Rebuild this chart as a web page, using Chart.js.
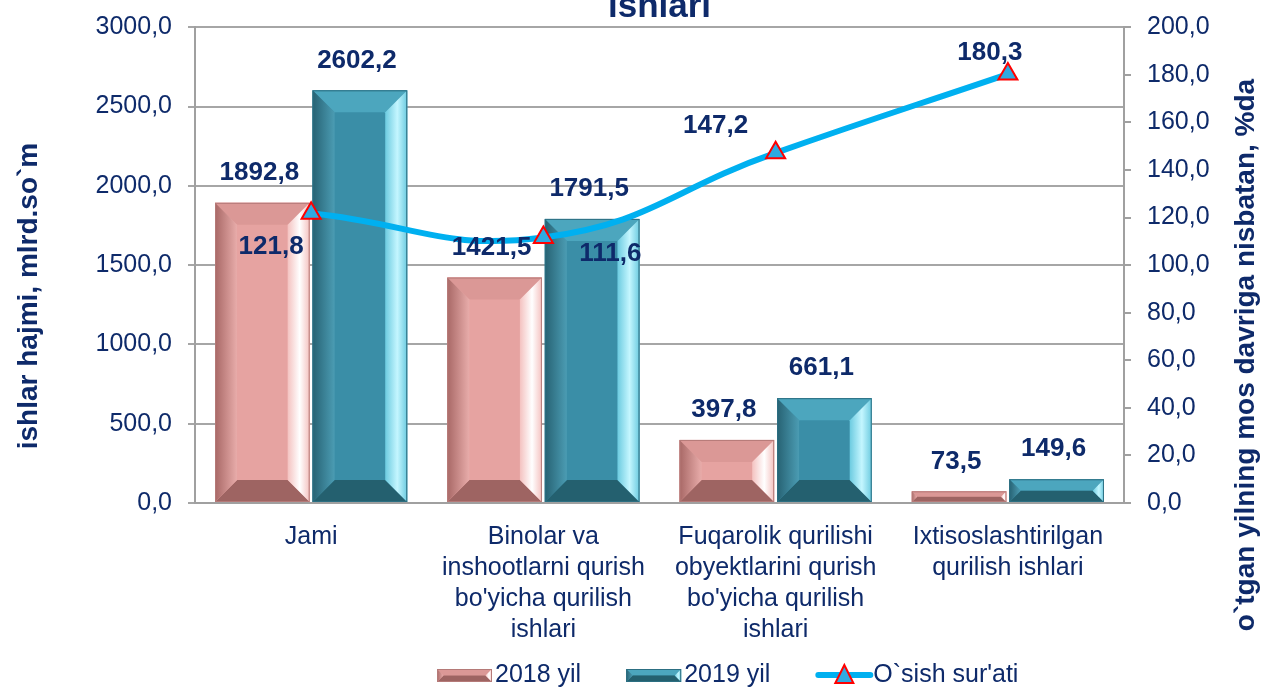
<!DOCTYPE html>
<html>
<head>
<meta charset="utf-8">
<script src="https://cdn.jsdelivr.net/npm/chart.js@4/dist/chart.umd.min.js"></script>
<style>
  html, body { margin: 0; padding: 0; background: #fff; }
  #wrap { width: 1262px; height: 689px; position: relative; }
</style>
</head>
<body>
<div id="wrap"><canvas id="chart"></canvas></div>
<script>
const categories = [
  "Jami",
  ["Binolar va", "inshootlarni qurish", "bo'yicha qurilish", "ishlari"],
  ["Fuqarolik qurilishi", "obyektlarini qurish", "bo'yicha qurilish", "ishlari"],
  ["Ixtisoslashtirilgan", "qurilish ishlari"]
];
const values2018 = [1892.8, 1421.5, 397.8, 73.5];
const values2019 = [2602.2, 1791.5, 661.1, 149.6];
const growthRate = [121.8, 111.6, 147.2, 180.3];
const leftTicks = [0, 500, 1000, 1500, 2000, 2500, 3000];
const rightTicks = [0, 20, 40, 60, 80, 100, 120, 140, 160, 180, 200];

const NAVY = "#0E2A6A";
const FONT = "'Liberation Sans', Arial, sans-serif";
const fmt = v => v.toFixed(1).replace(".", ",");

const pink = { face: "#E6A3A1", top: "#DB9896", left: ["#A86866", "#E8ACAA"], right: ["#F4C2C0", "#FFFFFF"], bottom: "#9E6462", edge: "#B57A78" };
const teal = { face: "#3A8EA7", top: "#4CA6BE", left: ["#276273", "#4B9CB3"], right: ["#6CCBE0", "#C4F6FF"], bottom: "#24606F", edge: "#2C6F82" };

function bevelBox(ctx, l, t, r, b, pal) {
  const w = r - l, h = b - t;
  if (h <= 0) return;
  const bv = Math.min(22, h / 2, w / 2);
  ctx.save();
  ctx.fillStyle = pal.face;
  ctx.fillRect(l, t, w, h);
  // top
  ctx.beginPath();
  ctx.moveTo(l, t); ctx.lineTo(r, t); ctx.lineTo(r - bv, t + bv); ctx.lineTo(l + bv, t + bv); ctx.closePath();
  ctx.fillStyle = pal.top; ctx.fill();
  // bottom
  ctx.beginPath();
  ctx.moveTo(l, b); ctx.lineTo(r, b); ctx.lineTo(r - bv, b - bv); ctx.lineTo(l + bv, b - bv); ctx.closePath();
  ctx.fillStyle = pal.bottom; ctx.fill();
  // left
  let g = ctx.createLinearGradient(l, 0, l + bv, 0);
  g.addColorStop(0, pal.left[0]); g.addColorStop(1, pal.left[1]);
  ctx.beginPath();
  ctx.moveTo(l, t); ctx.lineTo(l + bv, t + bv); ctx.lineTo(l + bv, b - bv); ctx.lineTo(l, b); ctx.closePath();
  ctx.fillStyle = g; ctx.fill();
  // right
  g = ctx.createLinearGradient(r - bv, 0, r, 0);
  g.addColorStop(0, pal.right[0]); g.addColorStop(0.55, pal.right[1]); g.addColorStop(1, pal.right[0]);
  ctx.beginPath();
  ctx.moveTo(r, t); ctx.lineTo(r - bv, t + bv); ctx.lineTo(r - bv, b - bv); ctx.lineTo(r, b); ctx.closePath();
  ctx.fillStyle = g; ctx.fill();
  ctx.strokeStyle = pal.edge; ctx.lineWidth = 1;
  ctx.strokeRect(l + 0.5, t + 0.5, w - 1, h - 1);
  ctx.restore();
}

const bevelPlugin = {
  id: "bevel",
  afterDatasetDraw(chart, args) {
    const ds = chart.data.datasets[args.index];
    if (ds.type !== "bar") return;
    const pal = args.index === 0 ? pink : teal;
    const ctx = chart.ctx;
    args.meta.data.forEach(el => {
      const p = el.getProps(["x", "y", "base", "width"], true);
      bevelBox(ctx, p.x - p.width / 2, p.y, p.x + p.width / 2, p.base, pal);
    });
  }
};

// label offsets for the growth line, relative to each point
const lineLabelOffsets = [[-40, 34], [67, 16], [-60, -27], [-18, -21]];

const labelPlugin = {
  id: "labels",
  afterDraw(chart) {
    const ctx = chart.ctx;
    ctx.save();
    ctx.font = "bold 26px " + FONT;
    ctx.fillStyle = NAVY;
    ctx.textAlign = "center";
    ctx.textBaseline = "middle";
    [0, 1].forEach(i => {
      chart.getDatasetMeta(i).data.forEach((el, j) => {
        ctx.fillText(fmt(chart.data.datasets[i].data[j]), el.x - 3, el.y - 30);
      });
    });
    chart.getDatasetMeta(2).data.forEach((el, j) => {
      const o = lineLabelOffsets[j];
      ctx.fillText(fmt(growthRate[j]), el.x + o[0], el.y + o[1]);
    });
    // chart title (cut off at the top in the original)
    const a = chart.chartArea;
    ctx.font = "bold 35px " + FONT;
    ctx.textBaseline = "alphabetic";
    ctx.fillText("ishlari", (a.left + a.right) / 2, 17);
    // axis titles
    ctx.font = "bold 28px " + FONT;
    ctx.save();
    ctx.translate(27, 296);
    ctx.rotate(-Math.PI / 2);
    ctx.fillText("ishlar hajmi, mlrd.so`m", 0, 10);
    ctx.restore();
    ctx.save();
    ctx.translate(1244, 355);
    ctx.rotate(-Math.PI / 2);
    ctx.fillText("o`tgan yilning mos davriga nisbatan, %da", 0, 10);
    ctx.restore();

    // legend
    ctx.font = "25px " + FONT;
    ctx.textAlign = "left";
    ctx.textBaseline = "middle";
    const ly = 675;
    let x = 437;
    chart.data.datasets.forEach((ds, i) => {
      if (ds.type === "bar") {
        bevelBox(ctx, x, ly - 6, x + 55, ly + 7, i === 0 ? pink : teal);
      } else {
        ctx.save();
        ctx.strokeStyle = ds.borderColor; ctx.lineWidth = 6; ctx.lineCap = "round";
        ctx.beginPath(); ctx.moveTo(x + 3, ly); ctx.lineTo(x + 55, ly); ctx.stroke();
        ctx.beginPath(); ctx.moveTo(x + 29, ly - 10); ctx.lineTo(x + 38, ly + 8); ctx.lineTo(x + 20, ly + 8); ctx.closePath();
        ctx.fillStyle = ds.pointBackgroundColor; ctx.fill();
        ctx.strokeStyle = ds.pointBorderColor; ctx.lineWidth = 2; ctx.stroke();
        ctx.restore();
      }
      x += 58;
      ctx.fillStyle = NAVY;
      ctx.fillText(ds.label, x, ly);
      x += ctx.measureText(ds.label).width + 45;
    });
    ctx.restore();
  }
};

new Chart(document.getElementById("chart"), {
  data: {
    labels: categories,
    datasets: [
      {
        type: "bar",
        label: "2018 yil",
        data: values2018,
        backgroundColor: pink.face,
        yAxisID: "y",
        order: 1,
        barPercentage: 0.97,
        categoryPercentage: 0.84
      },
      {
        type: "bar",
        label: "2019 yil",
        data: values2019,
        backgroundColor: teal.face,
        yAxisID: "y",
        order: 1,
        barPercentage: 0.97,
        categoryPercentage: 0.84
      },
      {
        type: "line",
        label: "O`sish sur'ati",
        data: growthRate,
        yAxisID: "y1",
        order: 0,
        borderColor: "#00B0F0",
        borderWidth: 6,
        tension: 0.45,
        pointStyle: "triangle",
        pointRadius: 11,
        pointBackgroundColor: "#2FAAE1",
        pointBorderColor: "#FF0000",
        pointBorderWidth: 2
      }
    ]
  },
  options: {
    responsive: true,
    maintainAspectRatio: false,
    animation: false,
    layout: { padding: { top: 3, bottom: 46 } },
    plugins: {
      tooltip: { enabled: false },
      legend: { display: false }
    },
    scales: {
      x: {
        grid: { display: false },
        border: { display: true, color: "#A0A0A0", width: 2 },
        ticks: {
          color: NAVY,
          font: { family: FONT, size: 25, lineHeight: 1.24 },
          padding: 11,
          maxRotation: 0,
          autoSkip: false
        },
        afterFit: s => { s.height = 140; }
      },
      y: {
        position: "left",
        min: 0,
        max: 3000,
        afterBuildTicks: s => { s.ticks = leftTicks.map(v => ({ value: v })); },
        grid: { color: "#A6A6A6", lineWidth: 2, tickLength: 7 },
        border: { color: "#A0A0A0", width: 2 },
        ticks: { color: NAVY, font: { family: FONT, size: 25, lineHeight: 0.9 }, padding: 16, callback: v => fmt(v) },
        afterFit: s => { s.width = 195; }
      },
      y1: {
        position: "right",
        min: 0,
        max: 200,
        afterBuildTicks: s => { s.ticks = rightTicks.map(v => ({ value: v })); },
        grid: { drawOnChartArea: false, color: "#A0A0A0", lineWidth: 2, tickLength: 7 },
        border: { color: "#A0A0A0", width: 2 },
        ticks: { color: NAVY, font: { family: FONT, size: 25, lineHeight: 0.9 }, padding: 16, callback: v => fmt(v) },
        afterFit: s => { s.width = 138; }
      }
    }
  },
  plugins: [bevelPlugin, labelPlugin]
});
</script>
</body>
</html>
